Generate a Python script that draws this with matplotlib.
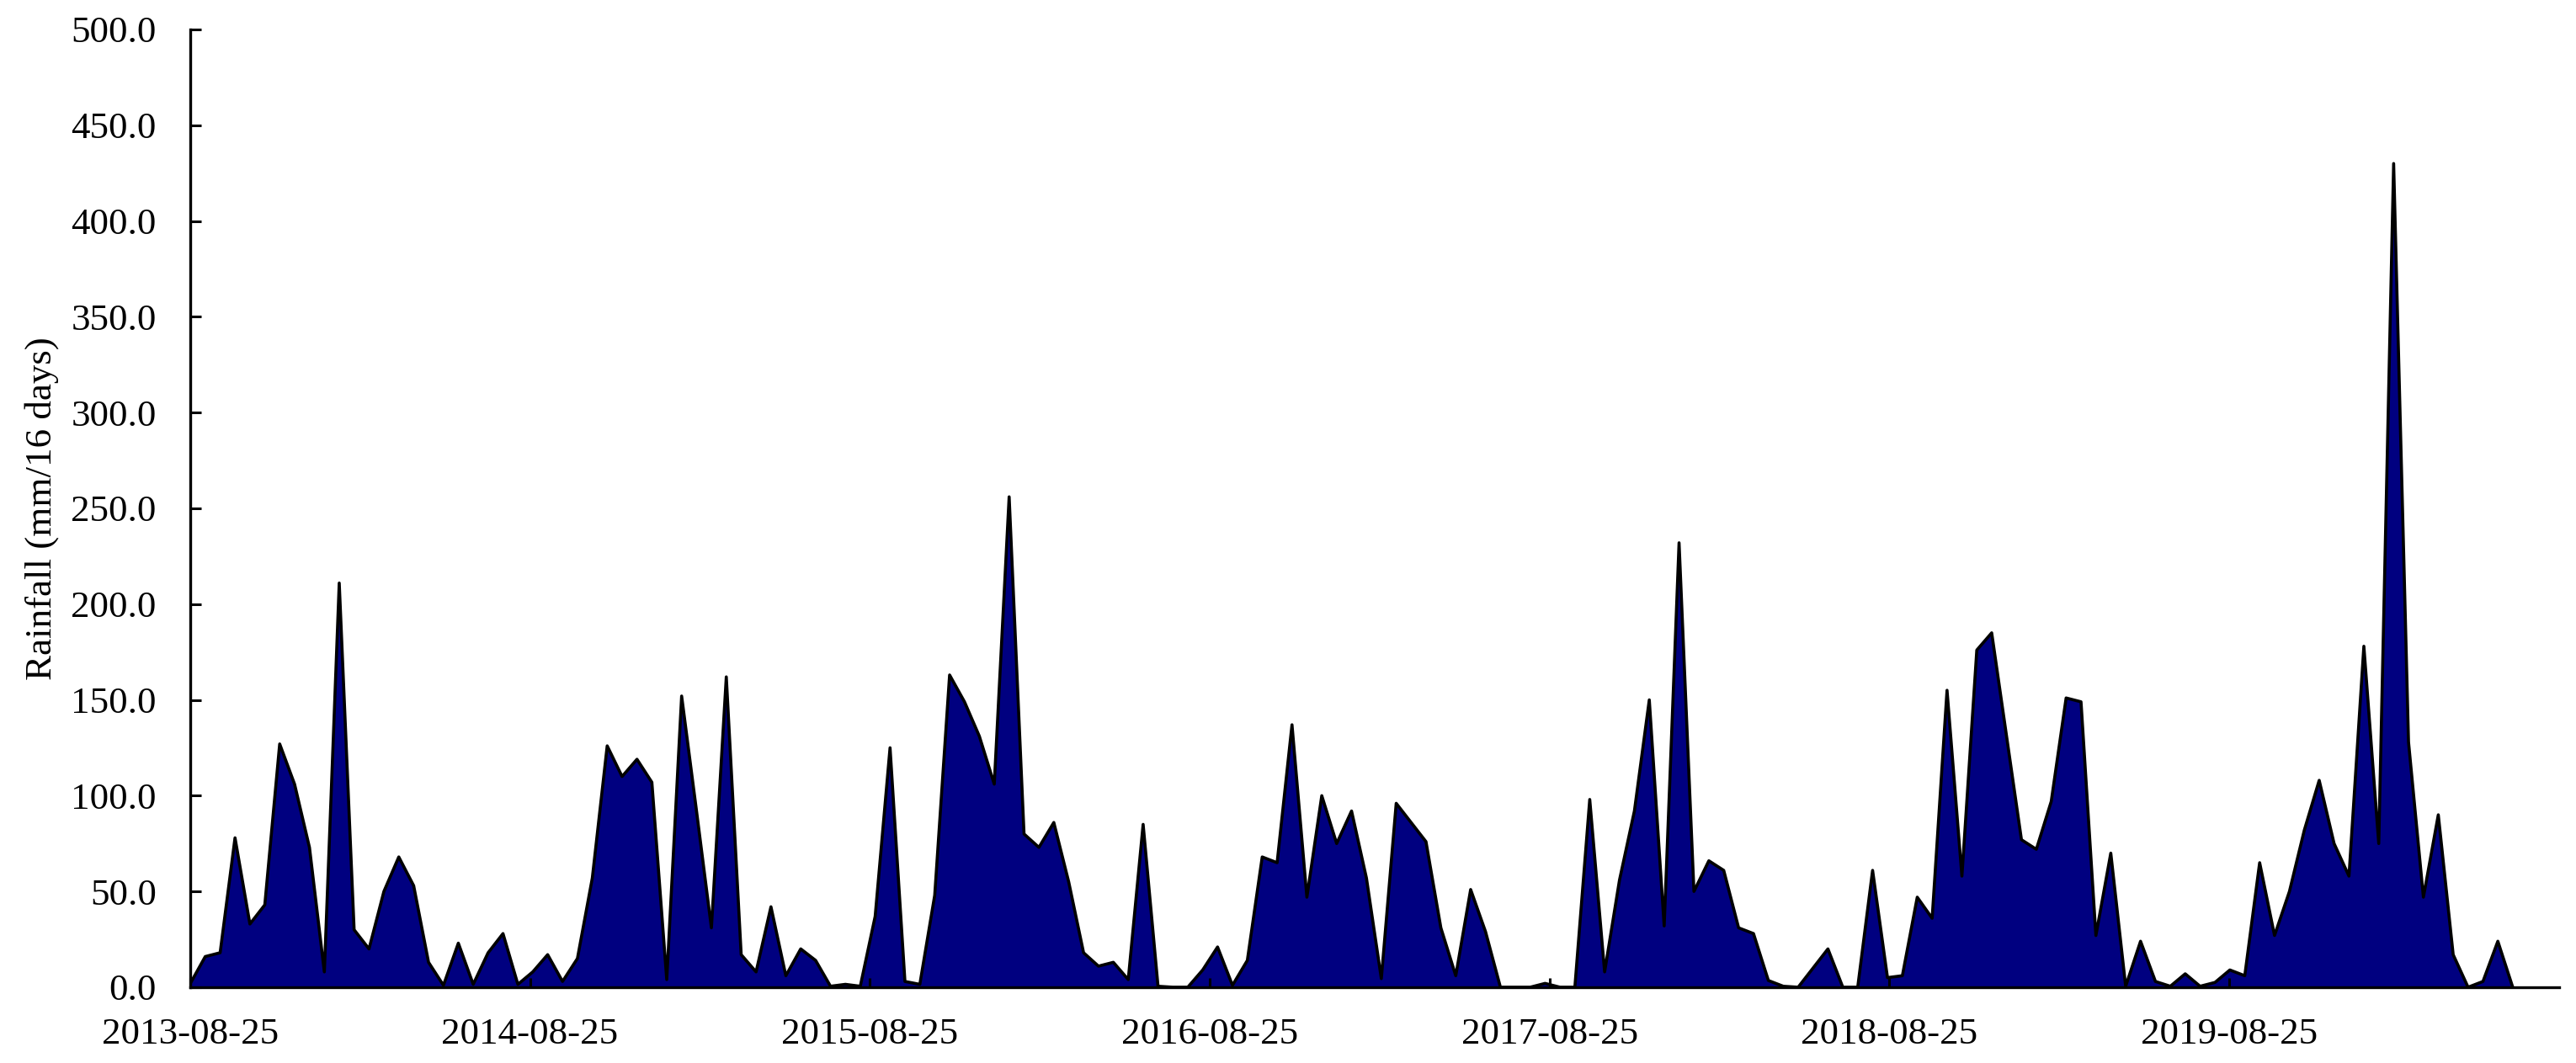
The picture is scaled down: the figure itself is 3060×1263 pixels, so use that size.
import matplotlib
matplotlib.use("Agg")
import matplotlib.pyplot as plt
import matplotlib.dates as mdates
import pandas as pd

# 16-day rainfall totals, first composite 2013-08-25
START_DATE = "2013-08-25"
STEP_DAYS = 16
rainfall = [
    2, 16, 18, 78, 33, 43, 127, 106, 73, 8,
    211, 30, 20, 50, 68, 53, 13, 1, 23, 1.5,
    18, 28, 1.5, 8, 17, 3, 15, 57, 126, 110,
    119, 107, 4, 152, 92, 31, 162, 17, 8, 42,
    6, 20, 14, 0.5, 1.5, 0.5, 37, 125, 3, 1.5,
    48, 163, 149, 131, 106, 256, 80, 73, 86, 55,
    18, 11, 13, 4, 85, 0.5, 0, 0, 9, 21,
    1, 14, 68, 65, 137, 47, 100, 75, 92, 57,
    4.5, 96, 86, 76, 31, 6, 51, 29, 0, 0,
    0, 2, 0, 0, 98, 8, 56, 92, 150, 32,
    232, 50, 66, 61, 31, 28, 3.5, 0.5, 0, 10,
    20, 0, 0, 61, 5, 6, 47, 36, 155, 58,
    176, 185, 131, 77, 72, 97, 151, 149, 27, 70,
    0.5, 24, 3, 0.5, 7, 0.5, 2.5, 9, 6, 65,
    27, 50, 82, 108, 75, 58, 178, 75, 430, 128,
    47, 90, 17, 0, 3, 24, 0,
]
tick_dates = ["2013-08-25", "2014-08-25", "2015-08-25", "2016-08-25",
              "2017-08-25", "2018-08-25", "2019-08-25"]
y_ticks = [0, 50, 100, 150, 200, 250, 300, 350, 400, 450, 500]

dates = pd.date_range(START_DATE, periods=len(rainfall), freq=f"{STEP_DAYS}D")

plt.rcParams["font.family"] = ["Liberation Serif", "DejaVu Serif"]

fig = plt.figure(figsize=(15.3, 6.315), dpi=200)
ax = fig.add_axes([0.0739, 0.0713, 0.9196, 0.9010])

ax.fill_between(dates, rainfall, 0, color="#000080", linewidth=0)
ax.plot(dates, rainfall, color="black", linewidth=1.3)

ax.set_xlim(pd.Timestamp(START_DATE), pd.Timestamp(START_DATE) + pd.Timedelta(days=2546))
ax.set_ylim(0, 500)

ax.set_xticks(pd.to_datetime(tick_dates))
ax.xaxis.set_major_formatter(mdates.DateFormatter("%Y-%m-%d"))
ax.set_yticks(y_ticks)
ax.set_yticklabels([f"{v:.1f}" for v in y_ticks])

ax.tick_params(axis="both", direction="in", labelsize=16.2, width=1.1, color="black")
ax.tick_params(axis="y", length=4.6, pad=14.5)
ax.tick_params(axis="x", length=4.0, pad=13)

ax.set_ylabel("Rainfall (mm/16 days)", fontsize=16.2, labelpad=5)

for side in ["top", "right"]:
    ax.spines[side].set_visible(False)
for side in ["left", "bottom"]:
    ax.spines[side].set_linewidth(1.2)
    ax.spines[side].set_color("black")
    ax.spines[side].set_zorder(5)

fig.savefig("out.png", dpi=200)
